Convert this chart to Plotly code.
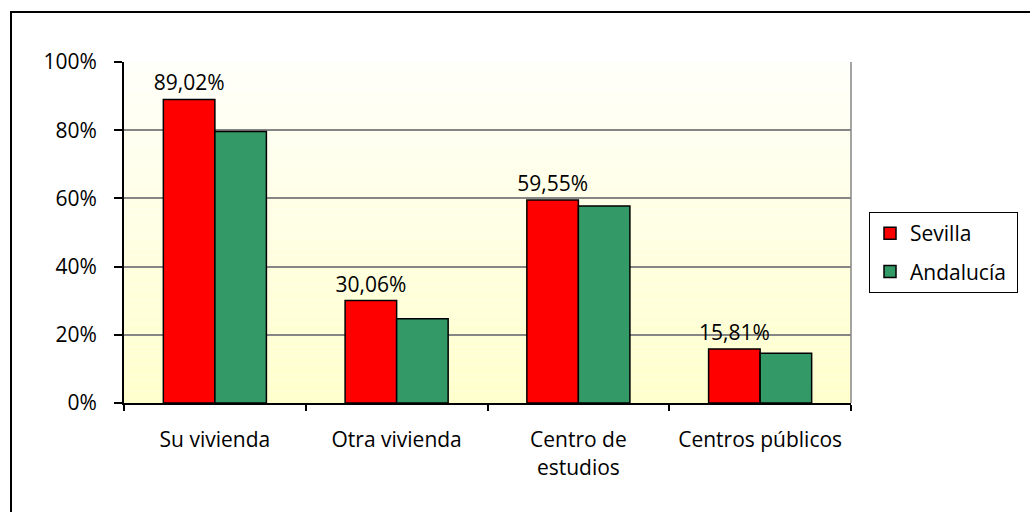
import plotly.graph_objects as go

categories = ["Su vivienda", "Otra vivienda", "Centro de<br>estudios", "Centros públicos"]
sevilla = [89.02, 30.06, 59.55, 15.81]
andalucia = [79.6, 24.7, 57.8, 14.6]
y_ticks = [0, 20, 40, 60, 80, 100]
y_tick_labels = ["0%", "20%", "40%", "60%", "80%", "100%"]

FONT = "Open Sans"
FS = 21

sev_text = [f"{v:.2f}".replace(".", ",") + "%" for v in sevilla]

fig = go.Figure()
fig.add_trace(go.Bar(
    x=categories, y=sevilla, name="Sevilla",
    marker=dict(color="#FF0000", line=dict(color="black", width=1.5)),
    text=sev_text, textposition="outside", constraintext="none",
    textfont=dict(family=FONT, size=FS, color="black"),
    cliponaxis=False, legendgroup="s",
))
fig.add_trace(go.Bar(
    x=categories, y=andalucia, name="Andalucía\u00a0",
    marker=dict(color="#339966", line=dict(color="black", width=1.5)),
    legendgroup="a",
))

# gradient background for the plot area (white top -> pale yellow bottom)
shapes = []
n = 60
for i in range(n):
    t = (i + 0.5) / n  # 0 bottom -> 1 top
    b = int(round(204 + (250 - 204) * t))
    shapes.append(dict(type="rect", xref="x domain", yref="y domain",
                       x0=0, x1=1, y0=i / n, y1=(i + 1) / n,
                       fillcolor=f"rgb(255,255,{b})", line=dict(width=0),
                       layer="below"))
# right border of plot area
shapes.append(dict(type="line", xref="x domain", yref="y domain",
                   x0=1, x1=1, y0=0, y1=1, line=dict(color="#868686", width=1.5)))
# outer chart border
L, T, W, H = 124, 62, 727, 341
def px(x):
    return (x - L) / W
def py(y):
    return (T + H - y) / H
shapes.append(dict(type="rect", xref="paper", yref="paper",
                   x0=px(11), x1=px(1040), y0=py(520), y1=py(12),
                   line=dict(color="black", width=2), fillcolor="rgba(0,0,0,0)",
                   layer="above"))

fig.update_layout(
    width=1030, height=512, autosize=False,
    margin=dict(l=L, r=1030 - L - W, t=T, b=512 - T - H, pad=0),
    paper_bgcolor="white", plot_bgcolor="white",
    barmode="group", bargap=0.433, bargroupgap=0,
    font=dict(family=FONT, size=FS, color="black"),
    shapes=shapes,
    showlegend=True,
    legend=dict(x=px(869), y=py(212), xanchor="left", yanchor="top",
                bordercolor="black", borderwidth=1, bgcolor="white",
                font=dict(family=FONT, size=FS, color="black"),
                tracegroupgap=8, traceorder="grouped"),
)
fig.update_xaxes(
    showline=True, linecolor="black", linewidth=2,
    ticks="outside", tickson="boundaries", ticklen=6, tickwidth=2, tickcolor="black",
    ticklabelstandoff=17, showgrid=False,
    tickfont=dict(family=FONT, size=FS, color="black"),
)
fig.update_yaxes(
    range=[0, 100], tickvals=y_ticks, ticktext=y_tick_labels,
    showline=True, linecolor="black", linewidth=2,
    ticks="outside", ticklen=8, tickwidth=2, tickcolor="black",
    ticklabelstandoff=13,
    showgrid=True, gridcolor="#868686", gridwidth=1.5, zeroline=False,
    tickfont=dict(family=FONT, size=FS, color="black"),
)

fig.write_html("out.html", config={"displayModeBar": False},
               post_script="document.body.style.margin='0';document.body.style.overflow='hidden';")
